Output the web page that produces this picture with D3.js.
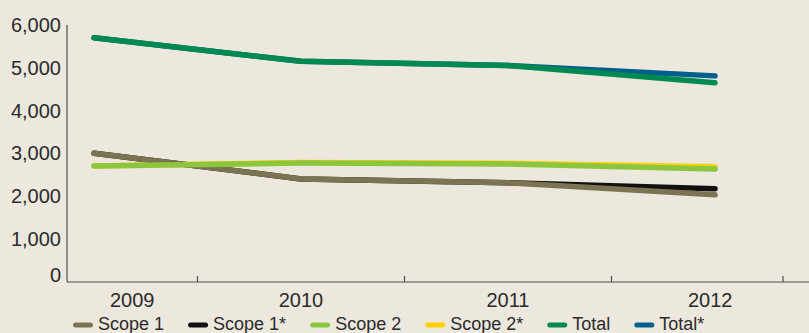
<!DOCTYPE html>
<html>
<head>
<meta charset="utf-8">
<script src="https://cdn.jsdelivr.net/npm/d3@7"></script>
<style>
  html, body { margin: 0; padding: 0; background: #ece8de; }
  svg { display: block; }
  text { font-family: "Liberation Sans", Arial, sans-serif; fill: #2b2b2b; }
</style>
</head>
<body>
<svg id="chart" width="809" height="333"></svg>
<script>
// Emissions by year (tonnes CO2e)
const years = ["2009", "2010", "2011", "2012"];
const scope1      = [3000, 2400, 2310, 2030];
const scope1Star  = [3000, 2400, 2310, 2170];
const scope2      = [2700, 2770, 2750, 2630];
const scope2Star  = [2700, 2785, 2765, 2685];
const total       = [5700, 5150, 5050, 4650];
const totalStar   = [5700, 5150, 5050, 4810];
const yTicks = [0, 1000, 2000, 3000, 4000, 5000, 6000];

// Restated (*) series sit underneath the reported ones
const series = [
  { name: "Scope 1*", values: scope1Star, color: "#111111" },
  { name: "Scope 2*", values: scope2Star, color: "#ffd200" },
  { name: "Total*",   values: totalStar,  color: "#005f8c" },
  { name: "Scope 1",  values: scope1,     color: "#7a7452" },
  { name: "Scope 2",  values: scope2,     color: "#8cc63f" },
  { name: "Total",    values: total,      color: "#008a52" }
];
const legendOrder = ["Scope 1", "Scope 1*", "Scope 2", "Scope 2*", "Total", "Total*"];

const W = 809, H = 333;
const axisLeft = 67, axisTop = 25, axisBottom = 282;

const svg = d3.select("#chart");

const x = d3.scalePoint().domain(years).range([94, 715]);
const y = d3.scaleLinear().domain([0, 6000]).range([281.5, axisTop]);
const step = x.step();

// y axis
svg.append("line")
  .attr("x1", axisLeft).attr("x2", axisLeft)
  .attr("y1", axisTop).attr("y2", axisBottom)
  .attr("stroke", "#4d4d4d").attr("stroke-width", 1.2);

svg.append("g").selectAll("text").data(yTicks).join("text")
  .attr("x", 61)
  .attr("y", d => Math.min(y(d), y(0) - 7))
  .attr("text-anchor", "end")
  .attr("dominant-baseline", "central")
  .attr("font-size", 20)
  .text(d => d3.format(",")(d));

// x axis
svg.append("line")
  .attr("x1", axisLeft).attr("x2", W)
  .attr("y1", axisBottom).attr("y2", axisBottom)
  .attr("stroke", "#4d4d4d").attr("stroke-width", 1.2);

const tickXs = years.slice(1).map(d => x(d) - step / 2).concat([x(years[years.length - 1]) + 68]);
svg.append("g").selectAll("line").data(tickXs).join("line")
  .attr("x1", d => d).attr("x2", d => d)
  .attr("y1", axisBottom - 6).attr("y2", axisBottom)
  .attr("stroke", "#4d4d4d").attr("stroke-width", 1.2);

// year labels centred on the visible part of each category slot
svg.append("g").selectAll("text").data(years).join("text")
  .attr("x", d => {
    const a = Math.max(axisLeft, x(d) - step / 2);
    const b = Math.min(W, x(d) + step / 2);
    return (a + b) / 2;
  })
  .attr("y", 300)
  .attr("text-anchor", "middle")
  .attr("dominant-baseline", "central")
  .attr("font-size", 20)
  .text(d => d);

// lines
const line = d3.line()
  .x((d, i) => x(years[i]))
  .y(d => y(d))
  .curve(d3.curveLinear);

svg.append("g").selectAll("path").data(series).join("path")
  .attr("d", s => line(s.values))
  .attr("fill", "none")
  .attr("stroke", s => s.color)
  .attr("stroke-width", 5.5)
  .attr("stroke-linecap", "round")
  .attr("stroke-linejoin", "round");

// legend
const colorOf = Object.fromEntries(series.map(s => [s.name, s.color]));
const legend = svg.append("g");
let lx = 73;
const ly = 324;
legendOrder.forEach(name => {
  legend.append("line")
    .attr("x1", lx + 2.5).attr("x2", lx + 17.5)
    .attr("y1", ly + 1).attr("y2", ly + 1)
    .attr("stroke", colorOf[name]).attr("stroke-width", 5)
    .attr("stroke-linecap", "round");
  const t = legend.append("text")
    .attr("x", lx + 25).attr("y", ly)
    .attr("dominant-baseline", "central")
    .attr("font-size", 18)
    .text(name);
  lx += 25 + t.node().getComputedTextLength() + 24;
});
</script>
</body>
</html>
